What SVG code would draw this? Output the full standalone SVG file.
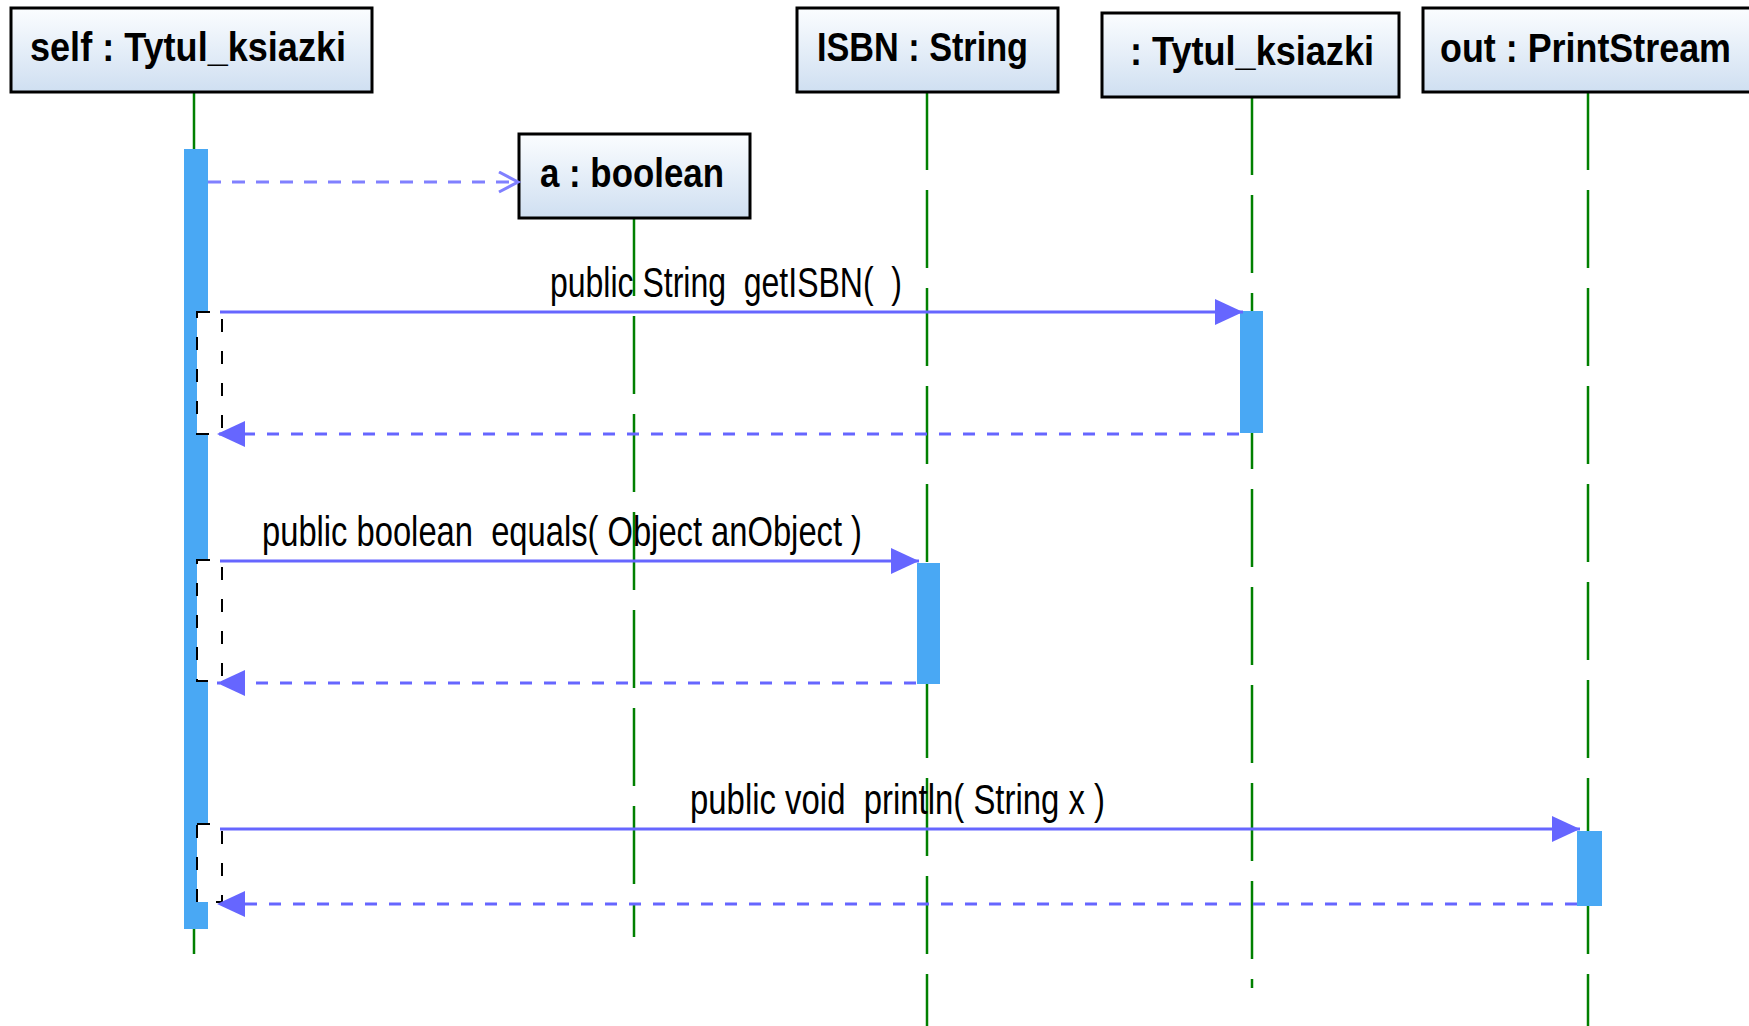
<svg xmlns="http://www.w3.org/2000/svg" width="1749" height="1026" viewBox="0 0 1749 1026">
<defs>
<linearGradient id="boxfill" x1="0" y1="0" x2="0" y2="1">
<stop offset="0" stop-color="#fbfdff"/>
<stop offset="1" stop-color="#cfdff1"/>
</linearGradient>
<marker id="filled" markerUnits="userSpaceOnUse" markerWidth="30" markerHeight="28" refX="28" refY="13" orient="auto">
<path d="M0,0 L28,13 L0,26 z" fill="#6666ff"/>
</marker>
<marker id="open" markerUnits="userSpaceOnUse" markerWidth="24" markerHeight="24" refX="20" refY="11" orient="auto">
<path d="M1,1 L20,11 L1,21" fill="none" stroke="#8080ff" stroke-width="3"/>
</marker>
</defs>
<style>
.box{fill:url(#boxfill);stroke:#000;stroke-width:3}
.name{font-family:"Liberation Sans",Arial,sans-serif;font-weight:bold;font-size:40px;fill:#000}
.life{stroke:#008000;stroke-width:2.5;stroke-dasharray:78 20;fill:none}
.act{fill:#49a8f4}
.selfbox{fill:#fff;stroke:#000;stroke-width:2;stroke-dasharray:13 19}
.msg{stroke:#6666ff;stroke-width:3;fill:none;marker-end:url(#filled)}
.ret{stroke:#6666ff;stroke-width:3;stroke-dasharray:12 12;fill:none;marker-end:url(#filled)}
.create{stroke:#8080ff;stroke-width:3;stroke-dasharray:13 11;fill:none;marker-end:url(#open)}
.label{font-family:"Liberation Sans",Arial,sans-serif;font-size:43px;fill:#000}
</style>
<rect width="1749" height="1026" fill="#fff"/>

<g id="self">
<line class="life" x1="194" y1="92" x2="194" y2="956"/>
<rect class="act" x="184" y="149" width="24" height="780"/>
<rect class="selfbox" x="197" y="312" width="25" height="122"/>
<rect class="selfbox" x="197" y="560" width="25" height="121"/>
<rect class="selfbox" x="197" y="824" width="25" height="78"/>
<rect class="box" x="11" y="8" width="361" height="84"/>
<text class="name" x="30" y="61" textLength="316" lengthAdjust="spacingAndGlyphs">self : Tytul_ksiazki</text>
</g>

<g id="a_boolean">
<line class="life" x1="634" y1="218" x2="634" y2="937"/>
<rect class="box" x="519" y="134" width="231" height="84"/>
<text class="name" x="540" y="187" textLength="184" lengthAdjust="spacingAndGlyphs">a : boolean</text>
</g>

<g id="isbn">
<line class="life" x1="927" y1="92" x2="927" y2="1026"/>
<rect class="act" x="917" y="563" width="23" height="121"/>
<rect class="box" x="797" y="8" width="261" height="84"/>
<text class="name" x="817" y="61" textLength="211" lengthAdjust="spacingAndGlyphs">ISBN : String</text>
</g>

<g id="tytul">
<line class="life" x1="1252" y1="97" x2="1252" y2="988"/>
<rect class="act" x="1240" y="311" width="23" height="122"/>
<rect class="box" x="1102" y="13" width="297" height="84"/>
<text class="name" x="1130" y="65" textLength="244" lengthAdjust="spacingAndGlyphs">: Tytul_ksiazki</text>
</g>

<g id="out">
<line class="life" x1="1588" y1="92" x2="1588" y2="1026"/>
<rect class="act" x="1577" y="831" width="25" height="75"/>
<rect class="box" x="1423" y="8" width="340" height="84"/>
<text class="name" x="1440" y="62" textLength="291" lengthAdjust="spacingAndGlyphs">out : PrintStream</text>
</g>

<g id="connectors">
<line class="create" x1="208" y1="182" x2="518" y2="182"/>
<line class="msg" x1="220" y1="312" x2="1243" y2="312"/>
<text class="label" x="550" y="297" xml:space="preserve" textLength="352" lengthAdjust="spacingAndGlyphs">public String  getISBN(  )</text>
<line class="ret" x1="1239" y1="434" x2="217" y2="434"/>
<line class="msg" x1="220" y1="561" x2="919" y2="561"/>
<text class="label" x="262" y="546" xml:space="preserve" textLength="600" lengthAdjust="spacingAndGlyphs">public boolean  equals( Object anObject )</text>
<line class="ret" x1="916" y1="683" x2="217" y2="683"/>
<line class="msg" x1="220" y1="829" x2="1580" y2="829"/>
<text class="label" x="690" y="814" xml:space="preserve" textLength="415" lengthAdjust="spacingAndGlyphs">public void  println( String x )</text>
<line class="ret" x1="1577" y1="904" x2="217" y2="904"/>
</g>
</svg>
